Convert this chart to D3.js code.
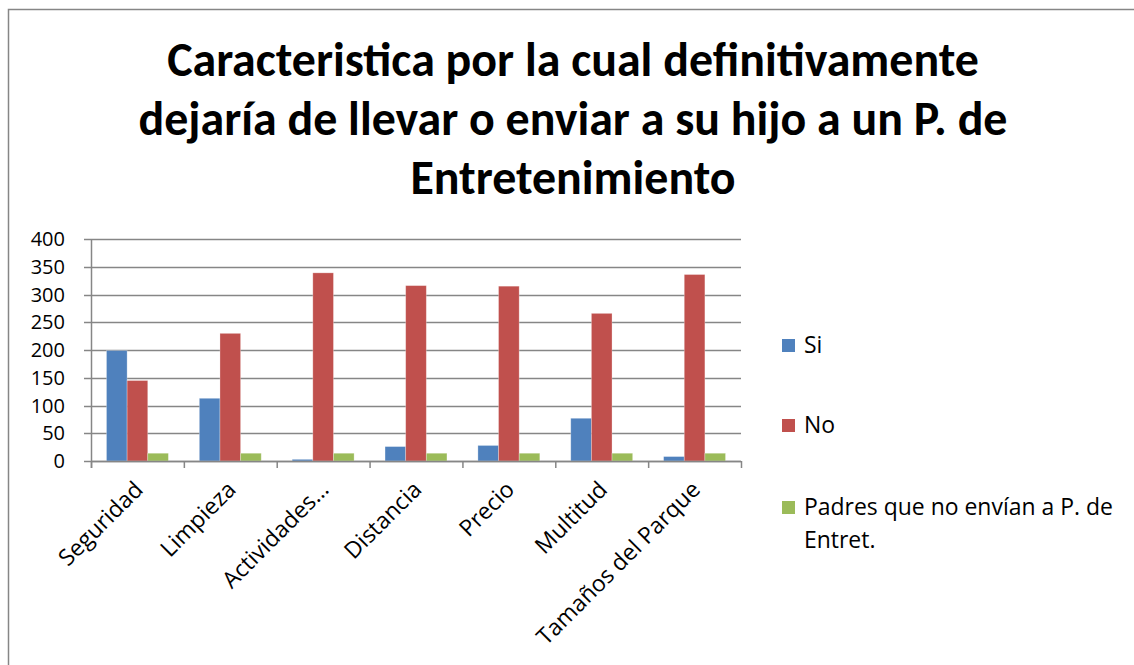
<!DOCTYPE html>
<html>
<head>
<meta charset="utf-8">
<script src="https://cdn.jsdelivr.net/npm/d3@7"></script>
<style>
  body { margin: 0; background: #fff; }
  svg text { font-family: "Open Sans", Lato, sans-serif; fill: #000; }
  svg text.title { font-family: Carlito, Lato, sans-serif; }
</style>
</head>
<body>
<div id="chart"></div>
<script>
// data
const categories = ["Seguridad", "Limpieza", "Actividades\u2026", "Distancia", "Precio", "Multitud", "Tamaños del Parque"];
const seriesNames = ["Si", "No", "Padres que no envían a P. de Entret."];
const siValues = [199, 113, 3, 26, 28, 77, 8];
const noValues = [145, 230, 339, 316, 315, 266, 336];
const padresValues = [14, 14, 14, 14, 14, 14, 14];
const yTicks = [0, 50, 100, 150, 200, 250, 300, 350, 400];
const titleLines = ["Caracteristica por la cual definitivamente", "dejaría de llevar o enviar a su hijo a un P. de", "Entretenimiento"];

const colors = ["#4f81bd", "#c0504d", "#9bbb59"];
const series = [siValues, noValues, padresValues];

const width = 1134, height = 665;
const plot = {left: 91, right: 741, top: 239, bottom: 461};

const svg = d3.select("#chart").append("svg")
    .attr("width", width)
    .attr("height", height);

// outer frame (right and bottom edges run off the picture)
svg.append("rect")
    .attr("x", 8.5).attr("y", 9.5)
    .attr("width", 1140).attr("height", 700)
    .attr("fill", "none")
    .attr("stroke", "#868686")
    .attr("stroke-width", 1.5);

// title, fitted so the first line has the reference width
const title = svg.append("g");
titleLines.forEach(function (line, i) {
    title.append("text")
        .attr("class", "title")
        .attr("x", 573)
        .attr("y", 76 + i * 59)
        .attr("text-anchor", "middle")
        .style("font-weight", "bold")
        .style("font-size", "36px")
        .text(line);
});
let w0 = title.select("text").node().getComputedTextLength();
title.selectAll("text").style("font-size", (36 * 812 / w0) + "px");

// body font size, fitted on the long legend line
let probe = svg.append("text").style("font-size", "20px").text("Padres que no envían a P. de");
const fs = 20 * 309 / probe.node().getComputedTextLength();
probe.remove();

// scales
const x0 = d3.scaleBand()
    .domain(categories)
    .range([plot.left, plot.right]);

const barW = x0.bandwidth() / 4.5;

const y = d3.scaleLinear()
    .domain([0, 400])
    .range([plot.bottom, plot.top]);

// gridlines
svg.append("g")
    .selectAll("line")
    .data(yTicks)
    .enter()
    .append("line")
    .attr("x1", plot.left - 7)
    .attr("x2", plot.right)
    .attr("y1", d => Math.round(y(d)) + 0.5)
    .attr("y2", d => Math.round(y(d)) + 0.5)
    .attr("stroke", "#868686")
    .attr("stroke-width", 1.5);

// y labels
svg.append("g")
    .selectAll("text")
    .data(yTicks)
    .enter()
    .append("text")
    .attr("x", 65)
    .attr("y", d => y(d) + 7)
    .attr("text-anchor", "end")
    .style("font-size", "20px")
    .text(d => d);

// bars
seriesNames.forEach(function (name, s) {
    svg.append("g")
        .selectAll("rect")
        .data(series[s])
        .enter()
        .append("rect")
        .attr("x", (d, i) => x0(categories[i]) + barW * 0.75 + s * barW)
        .attr("y", d => y(d))
        .attr("width", barW)
        .attr("height", d => plot.bottom - y(d))
        .attr("fill", colors[s])
        .attr("stroke", "#fff")
        .attr("stroke-opacity", 0.35)
        .attr("stroke-width", 0.8);
});

// axes lines
svg.append("line")
    .attr("x1", plot.left + 0.5).attr("x2", plot.left + 0.5)
    .attr("y1", plot.top).attr("y2", plot.bottom + 7)
    .attr("stroke", "#868686").attr("stroke-width", 1.5);

svg.append("line")
    .attr("x1", plot.left).attr("x2", plot.right)
    .attr("y1", plot.bottom + 0.5).attr("y2", plot.bottom + 0.5)
    .attr("stroke", "#868686").attr("stroke-width", 1.5);

// x tick marks at category boundaries
svg.append("g")
    .selectAll("line")
    .data(d3.range(categories.length + 1))
    .enter()
    .append("line")
    .attr("x1", i => plot.left + i * x0.step() + 0.5)
    .attr("x2", i => plot.left + i * x0.step() + 0.5)
    .attr("y1", plot.bottom)
    .attr("y2", plot.bottom + 7)
    .attr("stroke", "#868686")
    .attr("stroke-width", 1.5);

// x labels rotated
svg.append("g")
    .selectAll("text")
    .data(categories)
    .enter()
    .append("text")
    .attr("transform", d => "translate(" + [x0(d) + x0.bandwidth() / 2 + 7, plot.bottom + 30] + ") rotate(-45)")
    .attr("text-anchor", "end")
    .style("font-size", fs + "px")
    .text(d => d);

// legend
const legendRows = [
    {y: 345, lines: ["Si"]},
    {y: 425, lines: ["No"]},
    {y: 507, lines: ["Padres que no envían a P. de", "Entret."]}
];
const legend = svg.append("g")
    .selectAll("g")
    .data(legendRows)
    .enter()
    .append("g")
    .attr("transform", d => "translate(" + [782, d.y] + ")");

legend.append("rect")
    .attr("x", 0).attr("y", -6)
    .attr("width", 13).attr("height", 13)
    .attr("fill", (d, i) => colors[i]);

legend.each(function (d) {
    let g = d3.select(this);
    d.lines.forEach(function (t, j) {
        g.append("text")
            .attr("x", 22)
            .attr("y", fs * 0.36 + j * 33)
            .style("font-size", fs + "px")
            .text(t);
    });
});
</script>
</body>
</html>
